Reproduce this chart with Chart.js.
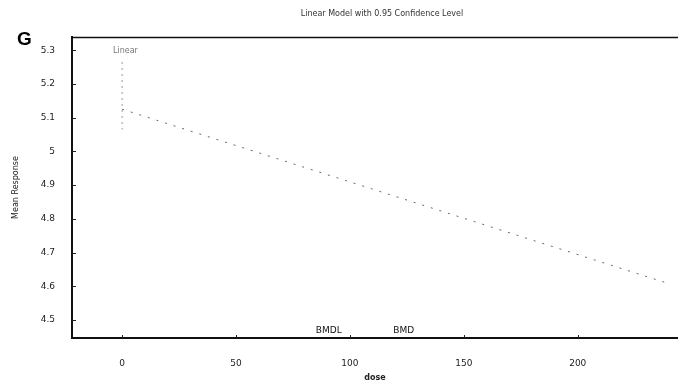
<!DOCTYPE html>
<html>
<head>
<meta charset="utf-8">
<script src="https://cdn.jsdelivr.net/npm/chart.js@4/dist/chart.umd.min.js"></script>
<style>
  html, body { margin: 0; padding: 0; background: #fff; }
  #wrap { width: 678px; height: 391px; }
</style>
</head>
<body>
<div id="wrap"><canvas id="c" width="678" height="391"></canvas></div>
<script>
// datos
var xTicks = [0, 50, 100, 150, 200];
var yTicks = [4.5, 4.6, 4.7, 4.8, 4.9, 5, 5.1, 5.2, 5.3];
var modelDose = [0, 240];
var modelResp = [5.125, 4.608];
var barDose = [0, 0];
var barResp = [5.265, 5.065];
var bmdLabels = ['BMDL', 'BMD'];
var bmdDose = [85, 119];

function pts(xs, ys) {
  var out = [];
  for (var i = 0; i < xs.length; i++) out.push({ x: xs[i], y: ys[i] });
  return out;
}

// textos extra: titulo, letra G, leyenda y etiquetas BMD
var extras = {
  id: 'extras',
  afterDraw: function(chart) {
    var ctx = chart.ctx;
    var a = chart.chartArea;
    var xs = chart.scales.x, ys = chart.scales.y;
    ctx.save();

    // borde superior
    ctx.strokeStyle = '#111';
    ctx.lineWidth = 1.5;
    ctx.beginPath();
    ctx.moveTo(a.left, a.top + 0.5);
    ctx.lineTo(a.right, a.top + 0.5);
    ctx.stroke();

    // marcas de escala hacia dentro
    ctx.lineWidth = 1;
    ctx.strokeStyle = '#222';
    for (var i = 0; i < yTicks.length; i++) {
      var py = Math.round(ys.getPixelForValue(yTicks[i])) + 0.5;
      ctx.beginPath(); ctx.moveTo(a.left, py); ctx.lineTo(a.left + 4, py); ctx.stroke();
    }
    for (var j = 0; j < xTicks.length; j++) {
      var px = Math.round(xs.getPixelForValue(xTicks[j])) + 0.5;
      ctx.beginPath(); ctx.moveTo(px, a.bottom); ctx.lineTo(px, a.bottom - 3); ctx.stroke();
    }

    ctx.fillStyle = '#333';
    ctx.font = '8px "DejaVu Sans"';
    ctx.textAlign = 'center';
    ctx.textBaseline = 'middle';
    ctx.fillText('Linear Model with 0.95 Confidence Level', 382, 14);

    ctx.fillStyle = '#000';
    ctx.font = 'bold 19px "Liberation Sans"';
    ctx.textAlign = 'left';
    ctx.fillText('G', 17, 40);

    ctx.fillStyle = '#777';
    ctx.font = '8px "DejaVu Sans"';
    ctx.fillText('Linear', xs.getPixelForValue(-4), 51);

    ctx.fillStyle = '#111';
    ctx.font = '9px "DejaVu Sans"';
    ctx.textBaseline = 'bottom';
    for (var k = 0; k < bmdLabels.length; k++) {
      ctx.fillText(bmdLabels[k], xs.getPixelForValue(bmdDose[k]), a.bottom - 3);
    }
    ctx.restore();
  }
};

var chart = new Chart(document.getElementById('c'), {
  type: 'scatter',
  data: {
    datasets: [
      {
        label: 'Linear',
        data: pts(modelDose, modelResp),
        showLine: true,
        borderColor: '#666',
        borderWidth: 1,
        borderDash: [2, 7],
        pointRadius: 0
      },
      {
        label: 'Error',
        data: pts(barDose, barResp),
        showLine: true,
        borderColor: '#999',
        borderWidth: 1,
        borderDash: [2, 4],
        pointRadius: 0
      }
    ]
  },
  options: {
    responsive: false,
    animation: false,
    layout: { padding: { top: 37, right: 0, bottom: 0, left: 0 } },
    plugins: { legend: { display: false }, tooltip: { enabled: false } },
    scales: {
      x: {
        type: 'linear',
        min: -22,
        max: 244,
        afterBuildTicks: function(s) { s.ticks = xTicks.map(function(v) { return { value: v }; }); },
        afterFit: function(s) { s.height = 53; },
        grid: { display: false },
        border: { color: '#111', width: 2 },
        ticks: { color: '#222', font: { size: 9, family: 'DejaVu Sans' }, padding: 12, maxRotation: 0 },
        title: { display: true, text: 'dose', color: '#222', font: { size: 8, family: 'DejaVu Sans', weight: 'bold' }, padding: { bottom: 8 } }
      },
      y: {
        type: 'linear',
        min: 4.447,
        max: 5.339,
        afterBuildTicks: function(s) { s.ticks = yTicks.map(function(v) { return { value: v }; }); },
        afterFit: function(s) { s.width = 72; },
        grid: { display: false },
        border: { color: '#111', width: 2 },
        ticks: { color: '#222', font: { size: 9, family: 'DejaVu Sans' }, padding: 9, callback: function(v) { return String(v); } },
        title: { display: true, text: 'Mean Response', color: '#222', font: { size: 8, family: 'DejaVu Sans' }, padding: { top: 11 } }
      }
    }
  },
  plugins: [extras]
});
</script>
</body>
</html>
